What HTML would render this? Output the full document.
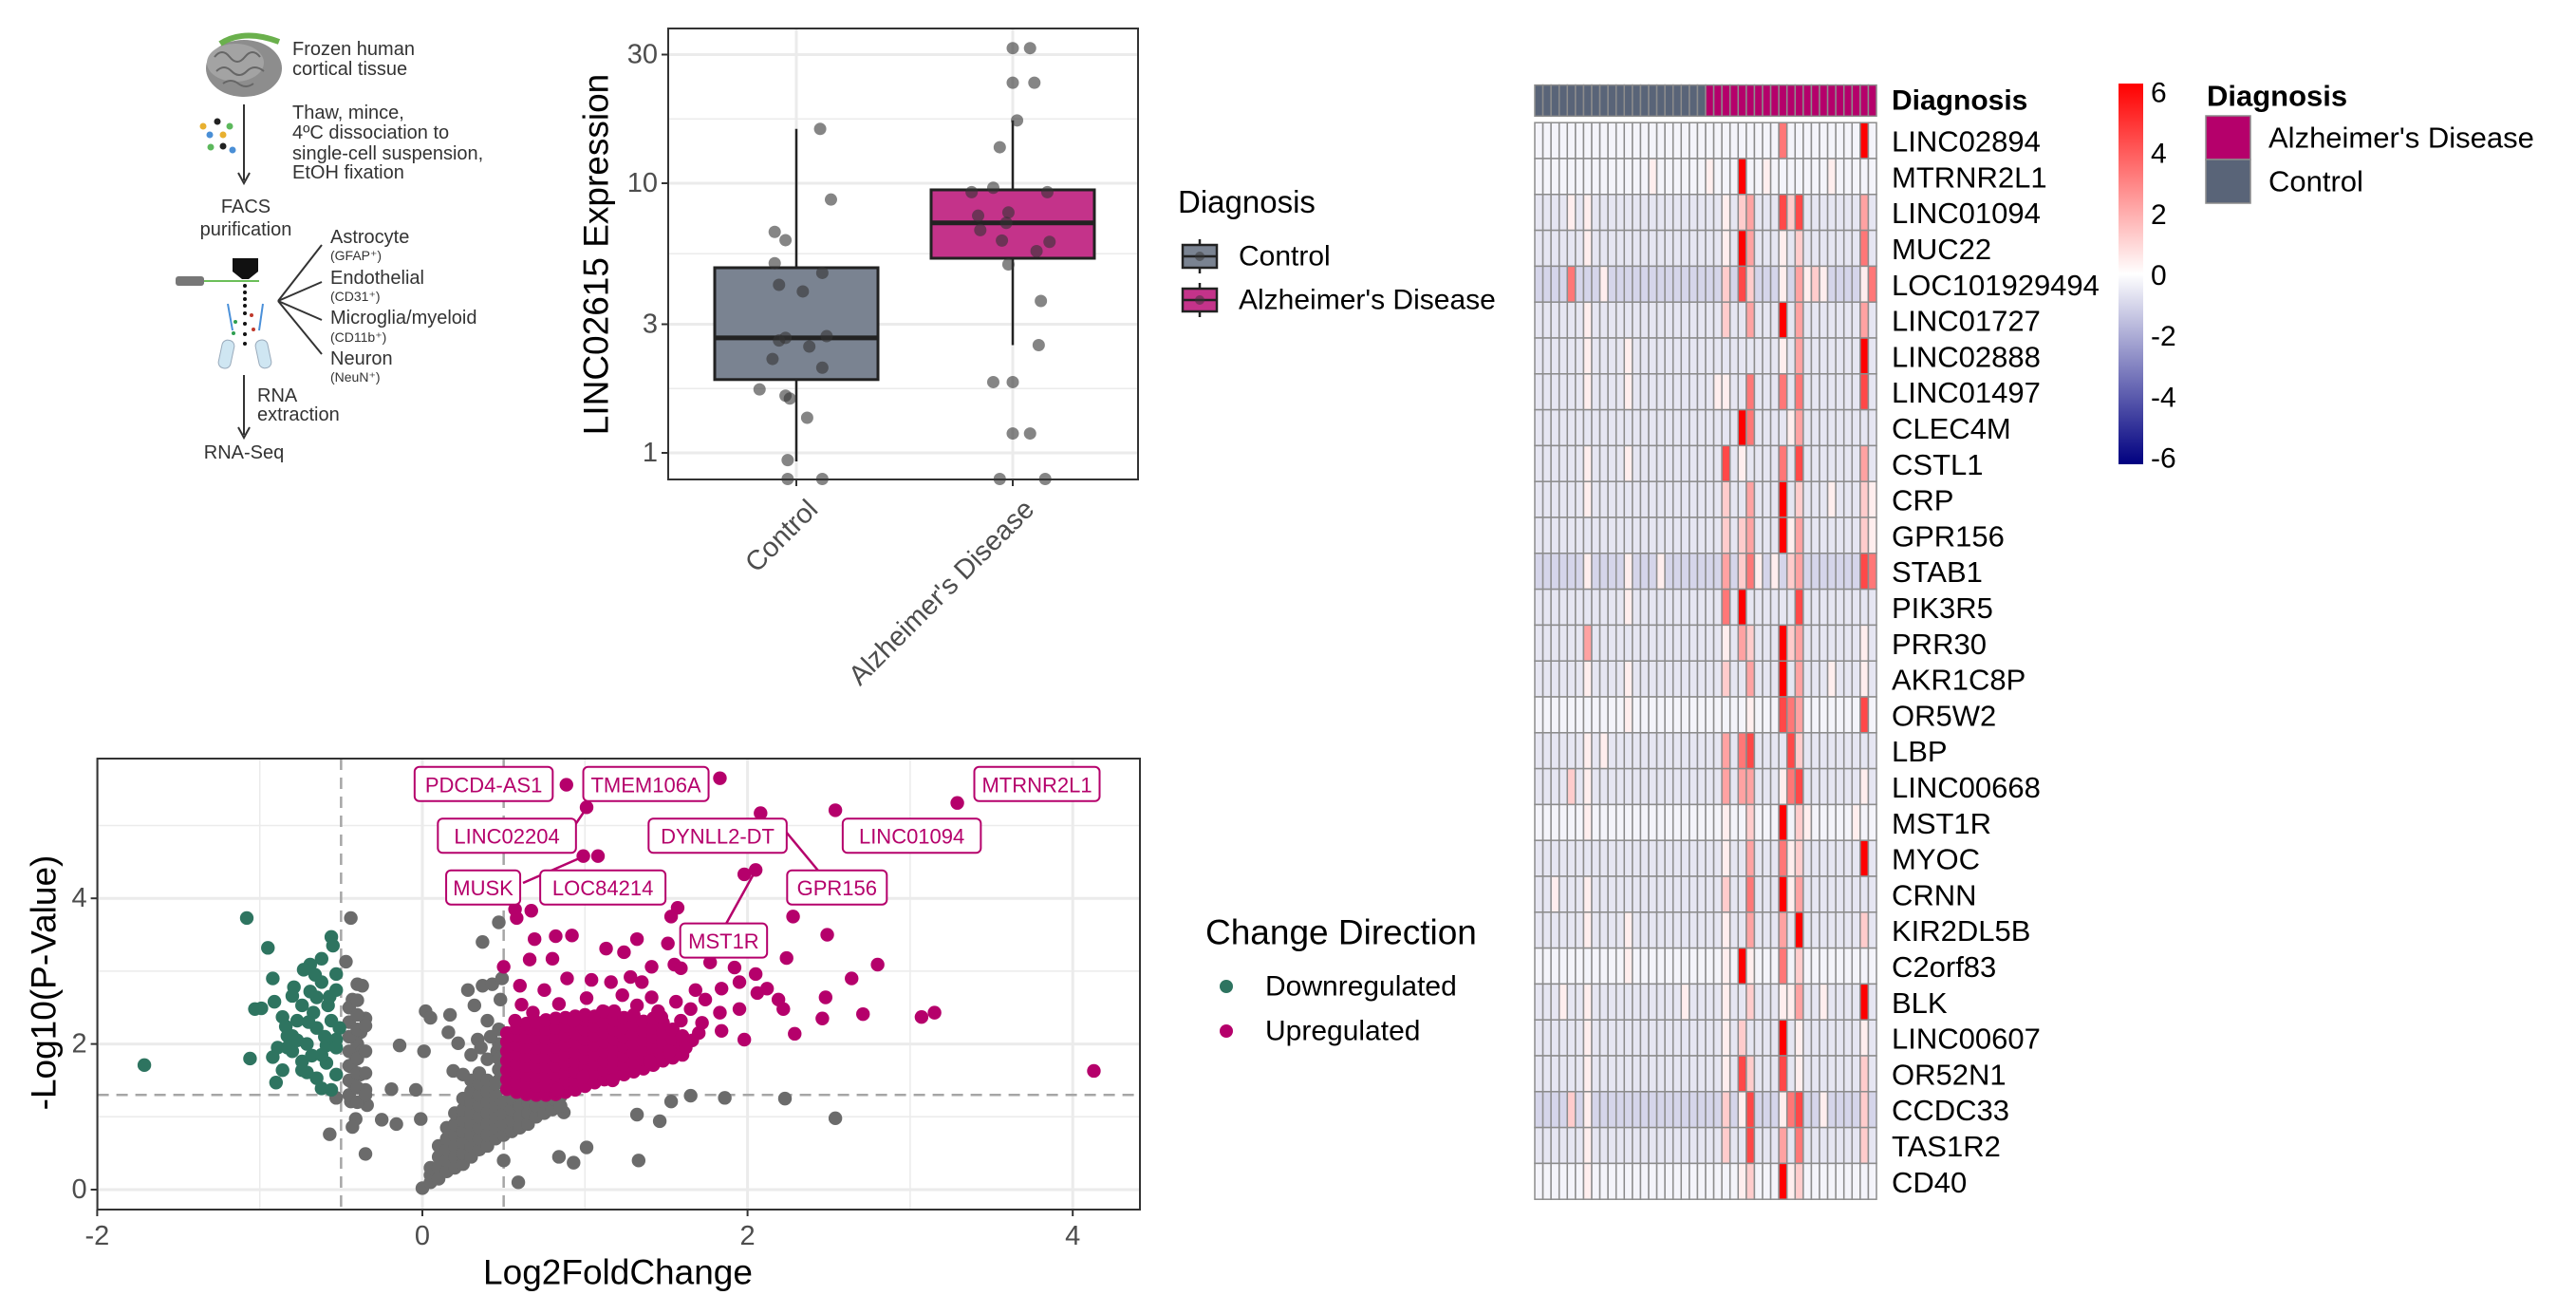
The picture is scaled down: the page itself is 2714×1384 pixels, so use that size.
<!DOCTYPE html>
<html><head><meta charset="utf-8"><style>
html,body{margin:0;padding:0;background:#fff;}
svg{display:block;font-family:"Liberation Sans",Arial,sans-serif;}
</style></head><body>
<svg id="fig" xmlns="http://www.w3.org/2000/svg" width="2714" height="1384" viewBox="0 0 2714 1384">
<rect x="0" y="0" width="2714" height="1384" fill="#fff"/>
<g id="schematic" fill="#333" font-size="20">
  <g>
    <ellipse cx="257" cy="72" rx="40" ry="30" fill="#8d8d8d"/>
    <ellipse cx="248" cy="66" rx="30" ry="20" fill="#a3a3a3"/>
    <path d="M226 60 q8 -10 16 0 q8 10 16 0 q8 -10 16 0 M228 75 q8 -8 16 0 q8 8 16 0 q8 -8 18 0 M235 88 q8 -6 16 0 q8 6 16 0" stroke="#666" stroke-width="2" fill="none"/>
    <path d="M232 46 q25 -16 62 -2" stroke="#6ab04c" stroke-width="6" fill="none"/>
  </g>
  <text x="308" y="52" dominant-baseline="central">Frozen human</text>
  <text x="308" y="73" dominant-baseline="central">cortical tissue</text>
  <line x1="257" y1="110" x2="257" y2="190" stroke="#333" stroke-width="2"/>
  <path d="M251 182 L257 193 L263 182" stroke="#333" stroke-width="2" fill="none"/>
  <g>
    <circle cx="214" cy="133" r="3.5" fill="#e8b030"/><circle cx="229" cy="128" r="3.5" fill="#222"/><circle cx="242" cy="133" r="3.5" fill="#5cb85c"/>
    <circle cx="221" cy="142" r="3.5" fill="#4a8fd6"/><circle cx="235" cy="142" r="3.5" fill="#e8b030"/><circle cx="222" cy="155" r="3.5" fill="#5cb85c"/>
    <circle cx="235" cy="154" r="3.5" fill="#222"/><circle cx="245" cy="158" r="3.5" fill="#4a8fd6"/>
  </g>
  <text x="308" y="119" dominant-baseline="central">Thaw, mince,</text>
  <text x="308" y="140" dominant-baseline="central">4ºC dissociation to</text>
  <text x="308" y="162" dominant-baseline="central">single-cell suspension,</text>
  <text x="308" y="182" dominant-baseline="central">EtOH fixation</text>
  <text x="259" y="218" text-anchor="middle" dominant-baseline="central">FACS</text>
  <text x="259" y="242" text-anchor="middle" dominant-baseline="central">purification</text>
  <g>
    <path d="M245 272 H272 V286 L262 294 H255 L245 286 Z" fill="#111"/>
    <rect x="185" y="291" width="30" height="10" rx="3" fill="#777"/>
    <line x1="215" y1="296" x2="273" y2="296" stroke="#6bbf59" stroke-width="2"/>
    <g fill="#111"><circle cx="258" cy="301" r="2"/><circle cx="258" cy="308" r="2"/><circle cx="258" cy="315" r="2"/><circle cx="258" cy="322" r="2"/><circle cx="258" cy="330" r="2"/><circle cx="258" cy="341" r="2"/><circle cx="258" cy="352" r="2"/><circle cx="258" cy="362" r="2"/></g>
    <circle cx="265" cy="332" r="2" fill="#c0392b"/><circle cx="267" cy="347" r="2" fill="#c0392b"/><circle cx="248" cy="339" r="2" fill="#2e9e4f"/><circle cx="246" cy="351" r="2" fill="#2e9e4f"/>
    <line x1="240" y1="320" x2="245" y2="348" stroke="#4a90d9" stroke-width="2"/>
    <line x1="277" y1="320" x2="273" y2="348" stroke="#4a90d9" stroke-width="2"/>
    <rect x="232" y="358" width="13" height="30" rx="6" fill="#cfe6f2" stroke="#9ab" transform="rotate(12 238 373)"/>
    <rect x="271" y="358" width="13" height="30" rx="6" fill="#cfe6f2" stroke="#9ab" transform="rotate(-12 277 373)"/>
  </g>
  <g stroke="#333" stroke-width="2" fill="none">
    <line x1="293" y1="317" x2="339" y2="258"/><line x1="293" y1="317" x2="339" y2="297"/><line x1="293" y1="317" x2="339" y2="337"/><line x1="293" y1="317" x2="339" y2="373"/>
  </g>
  <text x="348" y="250" dominant-baseline="central">Astrocyte</text>
  <text x="348" y="269" dominant-baseline="central" font-size="14">(GFAP⁺)</text>
  <text x="348" y="293" dominant-baseline="central">Endothelial</text>
  <text x="348" y="312" dominant-baseline="central" font-size="14">(CD31⁺)</text>
  <text x="348" y="335" dominant-baseline="central">Microglia/myeloid</text>
  <text x="348" y="355" dominant-baseline="central" font-size="14">(CD11b⁺)</text>
  <text x="348" y="378" dominant-baseline="central">Neuron</text>
  <text x="348" y="397" dominant-baseline="central" font-size="14">(NeuN⁺)</text>
  <line x1="257" y1="395" x2="257" y2="458" stroke="#333" stroke-width="2"/>
  <path d="M251 450 L257 461 L263 450" stroke="#333" stroke-width="2" fill="none"/>
  <text x="271" y="417" dominant-baseline="central">RNA</text>
  <text x="271" y="437" dominant-baseline="central">extraction</text>
  <text x="257" y="477" text-anchor="middle" dominant-baseline="central">RNA-Seq</text>
</g>
<g id="box"></g>
<g id="volc"></g>
<g id="heat"></g>
<defs>
  <linearGradient id="cbar" x1="0" y1="0" x2="0" y2="1">
    <stop offset="0" stop-color="#ff0000"/><stop offset="0.5" stop-color="#ffffff"/><stop offset="1" stop-color="#000080"/>
  </linearGradient>
</defs>
</svg>
<script>
// ---------- BOXPLOT DATA ----------
const boxCats = ["Control", "Alzheimer's Disease"];
const boxQ1 = [1.87, 5.27];
const boxMed = [2.67, 7.13];
const boxQ3 = [4.86, 9.45];
const boxLo = [0.93, 2.51];
const boxHi = [15.9, 17.1];
const boxTicks = [1, 3, 10, 30];
const ctrlVals = [15.9,8.7,6.6,6.15,5.05,4.65,4.2,3.97,2.67,2.61,2.71,2.48,2.23,2.07,1.72,1.63,1.59,1.35,0.94,0.80,0.80];
const ctrlJit = [0.11,0.16,-0.10,-0.05,-0.10,0.12,-0.08,0.03,-0.05,-0.08,0.14,0.06,-0.11,0.12,-0.17,-0.05,-0.03,0.05,-0.04,-0.04,0.12];
const adVals = [31.7,31.7,23.6,23.6,17.1,13.6,9.27,9.62,9.27,7.79,7.58,7.13,6.7,6.13,6.06,5.6,5.0,3.66,2.51,1.83,1.83,1.18,1.18,0.80,0.80];
const adJit = [0,0.08,0,0.10,0.02,-0.06,-0.19,-0.09,0.16,-0.02,-0.16,-0.03,-0.15,-0.05,0.17,0.11,-0.02,0.13,0.12,-0.09,0,0,0.08,-0.06,0.15];

// ---------- VOLCANO DATA ----------
const volXTicks = [-2, 0, 2, 4];
const volYTicks = [0, 2, 4];
const upPts = [[0.886,5.56],[1.83,5.65],[1.01,5.25],[2.08,5.17],[2.54,5.21],[3.29,5.31],[0.99,4.58],[1.08,4.58],[1.98,4.33],[2.05,4.39],[4.13,1.63],
[0.57,3.85],[0.67,3.83],[0.58,3.73],[1.57,3.87],[1.53,3.75],[2.28,3.75],[2.49,3.50],[0.69,3.44],[0.82,3.48],[0.92,3.49],[1.13,3.31],[1.32,3.44],[1.24,3.26],[1.51,3.38],[0.66,3.16],[0.50,3.06],[0.80,3.17],[2.24,3.18],[2.80,3.09],[2.64,2.90],[2.48,2.64],[2.71,2.41],[3.07,2.37],[3.15,2.43],[2.46,2.35],[2.29,2.14],[1.98,2.06],[1.84,2.18],[2.05,2.96],[1.92,3.05],[1.77,3.12],[1.55,3.09],[1.41,3.06],[1.71,3.33],[1.59,3.04],[2.06,2.70],[2.19,2.61],[2.22,2.48],[2.12,2.76],[1.95,2.85],[1.84,2.76],[1.74,2.61],[1.68,2.74],[1.56,2.58],[1.35,2.85],[1.28,2.92],[1.16,2.85],[1.04,2.88],[0.89,2.90],[0.75,2.74],[0.60,2.80],[0.61,2.54],[0.84,2.55],[1.01,2.63],[1.23,2.67],[1.41,2.64],[1.65,2.48],[1.83,2.43],[1.95,2.48],[1.72,2.29],[1.59,2.32],[1.47,2.37],[0.68,2.43],[0.57,2.32],[1.11,2.45],[0.93,2.32],[1.32,2.53],[1.52,1.90],[1.40,1.76],[1.17,1.50],[0.99,1.55],[0.83,1.37],[1.66,2.05],[1.62,1.95],[1.70,2.15],[1.45,2.45]];
const upCoreFc = [0.52,0.58,0.64,0.70,0.76,0.82,0.88,0.94,1.00,1.06,1.12,1.18,1.24,1.30,1.36,1.42,1.48,1.54,1.60];
const upCoreP = [
[1.38,1.51,1.64,1.77,1.90,2.03,2.15],
[1.34,1.47,1.60,1.73,1.86,1.99,2.12,2.22],
[1.31,1.44,1.57,1.70,1.83,1.96,2.09,2.22,2.28],
[1.30,1.43,1.56,1.69,1.82,1.95,2.08,2.21,2.30],
[1.30,1.43,1.56,1.69,1.82,1.95,2.08,2.21,2.33],
[1.31,1.44,1.57,1.70,1.83,1.96,2.09,2.22,2.35],
[1.34,1.47,1.60,1.73,1.86,1.99,2.12,2.25,2.36],
[1.37,1.50,1.63,1.76,1.89,2.02,2.15,2.28,2.38],
[1.42,1.55,1.68,1.81,1.94,2.07,2.20,2.33,2.40],
[1.47,1.60,1.73,1.86,1.99,2.12,2.25,2.38],
[1.51,1.64,1.77,1.90,2.03,2.16,2.29,2.44],
[1.55,1.68,1.81,1.94,2.07,2.20,2.33,2.45],
[1.58,1.71,1.84,1.97,2.10,2.23,2.36],
[1.62,1.75,1.88,2.01,2.14,2.27,2.40],
[1.66,1.79,1.92,2.05,2.18,2.31],
[1.71,1.84,1.97,2.10,2.23,2.35],
[1.77,1.90,2.03,2.16,2.29],
[1.81,1.94,2.07,2.20],
[1.85,1.98,2.11]];
const downPts = [[-1.08,3.73],[-0.95,3.32],[-1.71,1.71],[-0.56,3.47],[-0.55,3.35],[-0.62,3.17],[-0.69,3.09],[-0.73,3.02],[-0.92,2.90],[-0.79,2.78],[-0.80,2.66],[-0.91,2.58],[-0.99,2.49],[-0.86,2.37],[-0.84,2.24],[-0.80,2.11],[-0.83,1.95],[-0.92,1.82],[-1.06,1.80],[-0.90,1.47],[-0.86,1.64],[-0.74,1.76],[-0.71,1.61],[-0.65,1.53],[-0.62,1.39],[-0.56,1.37],[-0.53,1.58],[-0.68,1.84],[-0.59,1.98],[-0.53,2.06],[-0.65,2.22],[-0.56,2.32],[-0.74,2.53],[-0.65,2.64],[-0.53,2.74],[-0.53,2.96],[-0.62,2.85],[-0.69,2.72],[-0.77,2.32],[-0.83,2.11],[-0.59,1.74],[-0.53,1.95],[-0.80,1.90],[-0.71,2.00],[-0.67,2.43],[-0.58,2.53],[-0.51,2.22],[-1.03,2.48],[-0.89,1.95],[-0.74,1.64],[-0.60,2.10],[-0.70,2.30],[-0.77,2.05],[-0.62,1.85],[-0.57,2.65],[-0.66,2.95]];
const nsPts = [[-0.44,3.73],[-0.47,3.13],[-0.40,2.82],[-0.37,2.80],[-0.43,2.61],[-0.35,2.35],[-0.38,2.16],[-0.40,2.00],[-0.37,1.90],[-0.41,1.79],[-0.44,1.69],[-0.38,1.58],[-0.43,1.47],[-0.35,1.37],[-0.34,1.16],[-0.44,1.21],[-0.53,1.26],[-0.41,0.97],[-0.43,0.86],[-0.57,0.76],[-0.35,0.49],[-0.25,0.96],[-0.16,0.90],[-0.19,1.38],[-0.04,1.37],[-0.01,0.97],[-0.14,1.98],[0.01,1.90],[0.02,2.45],[0.05,2.36],[0.17,2.40],[0.32,2.53],[0.28,2.74],[0.37,2.80],[0.43,2.82],[0.49,2.90],[0.37,3.40],[0.47,3.67],[0.48,2.61],[0.40,2.32],[0.16,2.16],[0.22,2.01],[0.34,2.06],[0.19,1.63],[0.25,1.58],[0.40,1.79],[0.46,1.90],[1.53,1.21],[1.65,1.29],[1.86,1.26],[2.23,1.25],[2.54,0.98],[1.32,1.03],[1.46,0.94],[0.87,1.06],[1.01,0.58],[0.84,0.45],[0.93,0.37],[1.33,0.40],[0.59,0.10],[0.0,0.02],[0.50,0.40],
[-0.45,1.30],[-0.45,1.50],[-0.45,1.70],[-0.45,1.90],[-0.45,2.10],[-0.45,2.30],[-0.45,2.50],[-0.40,1.20],[-0.40,1.40],[-0.40,1.60],[-0.40,1.80],[-0.40,2.20],[-0.40,2.40],[-0.40,2.60],[-0.35,1.30],[-0.35,1.60],[-0.35,1.90],[-0.35,2.25],
[0.47,1.50],[0.47,1.65],[0.47,1.80],[0.47,2.00],[0.47,2.20],[0.42,2.10],[0.30,1.85],[0.36,1.95]];
const nsCoreFc = [0.05,0.10,0.15,0.20,0.25,0.30,0.35,0.40,0.45,0.50,0.55,0.60,0.65,0.70,0.75,0.80,0.85];
const nsCoreP = [
[0.10,0.20,0.30],[0.15,0.30,0.45,0.60],[0.25,0.40,0.55,0.70,0.85],[0.30,0.45,0.60,0.75,0.90,1.05],
[0.35,0.50,0.65,0.80,0.95,1.10,1.25],[0.45,0.60,0.75,0.90,1.05,1.20,1.35,1.50],[0.55,0.70,0.85,1.00,1.15,1.30,1.45,1.60],
[0.60,0.75,0.90,1.05,1.20,1.35,1.50],[0.70,0.85,1.00,1.15,1.30,1.45],[0.75,0.90,1.05,1.20],[0.80,0.95,1.10,1.25],
[0.85,1.00,1.15,1.28],[0.90,1.05,1.20],[1.00,1.15,1.28],[1.05,1.20],[1.10,1.25],[1.15,1.28]];
const volLabels = ["PDCD4-AS1","TMEM106A","MTRNR2L1","LINC02204","DYNLL2-DT","LINC01094","MUSK","LOC84214","GPR156","MST1R"];
const volLabelFc = [0.377,1.375,3.78,0.52,1.816,3.01,0.374,1.11,2.55,1.853];
const volLabelP = [5.57,5.57,5.57,4.86,4.86,4.86,4.15,4.15,4.15,3.42];

// ---------- HEATMAP DATA ----------
const hmGenes = ["LINC02894","MTRNR2L1","LINC01094","MUC22","LOC101929494","LINC01727","LINC02888","LINC01497","CLEC4M","CSTL1","CRP","GPR156","STAB1","PIK3R5","PRR30","AKR1C8P","OR5W2","LBP","LINC00668","MST1R","MYOC","CRNN","KIR2DL5B","C2orf83","BLK","LINC00607","OR52N1","CCDC33","TAS1R2","CD40"];
const hmGroups = Array(21).fill("Control").concat(Array(21).fill("Alzheimer's Disease"));
const hmRowBase = [-0.25,-0.25,-0.6,-0.6,-1.0,-0.6,-0.6,-0.6,-0.6,-0.6,-0.6,-0.6,-1.0,-0.6,-0.6,-0.6,-0.25,-0.6,-0.6,-0.25,-0.6,-0.6,-0.6,-0.25,-0.6,-0.6,-0.6,-1.0,-0.6,-0.25];
const hmHotRow = [0,0, 1,1,1,1,1, 2,2,2,2,2,2,2,2,2, 3,3,3,3,3,3,3, 4,4,4,4,4,4,4,4,4,4,4,4, 5,5,5,5,5,5, 6,6,6,6,6, 7,7,7,7,7,7,7,7, 8,8,8,8, 9,9,9,9,9,9,9, 10,10,10,10,10,10,10,10, 11,11,11,11,11,11,11,11, 12,12,12,12,12,12,12,12,12,12,12,12, 13,13,13,13, 14,14,14,14,14,14,14,14, 15,15,15,15,15,15,15,15, 16,16,16,16,16,16, 17,17,17,17,17,17,17, 18,18,18,18,18,18,18,18,18, 19,19,19,19,19,19,19, 20,20,20,20,20,20, 21,21,21,21,21,21,21, 22,22,22,22,22,22,22, 23,23,23,23,23,23, 24,24,24,24,24,24,24,24,24,24, 25,25,25,25,25,25, 26,26,26,26,26,26,26, 27,27,27,27,27,27,27,27,27,27, 28,28,28,28,28,28, 29,29,29,29,29,29];
const hmHotCol = [30,40, 14,21,25,28,36, 4,6,23,25,26,30,31,32,40, 6,23,25,26,30,32,40, 4,8,23,25,26,30,32,33,34,35,40,41, 6,23,26,30,32,40, 6,11,30,32,40, 6,11,22,23,26,30,32,40, 25,26,31,32, 6,11,23,25,30,32,40, 6,23,26,30,32,36,40,41, 23,25,26,30,31,32,40,41, 6,11,15,23,25,26,27,29,31,32,40,41, 11,23,25,32, 6,23,25,26,30,31,32,40, 6,11,23,26,30,32,36,40, 11,26,30,31,32,40, 6,8,23,25,26,31,32, 4,6,23,25,26,30,31,32,40, 6,23,26,30,32,33,39, 23,26,30,31,32,40, 2,6,23,26,30,31,32, 6,11,23,26,30,32,40, 11,23,25,26,30,32, 3,6,18,23,26,30,31,32,35,40, 6,23,25,30,32,40, 6,23,25,26,30,32,40, 4,6,23,25,26,30,31,32,35,40, 6,23,26,30,32,40, 6,25,26,30,31,32];
const hmHotVal = [3.2,6, 0.4,0.4,6,0.4,0.4, 0.4,0.4,0.4,1.2,2.2,4.3,1.2,4.3,2.2, 0.4,0.4,6,2.2,0.4,1.2,3.2, 3.2,0.4,1.2,4.3,1.2,0.4,2.2,0.4,1.2,0.4,0.4,3.2, 0.4,1.2,2.2,6,2.2,2.2, 0.4,0.4,0.4,2.2,6, 0.4,0.4,0.4,0.4,3.2,3.2,3.2,4.3, 6,3.2,0.4,2.2, 0.4,0.4,4.3,0.4,3.2,4.3,2.2, 0.4,1.2,2.2,6,1.2,0.4,1.2,0.4, 1.2,1.2,2.2,6,0.4,2.2,1.2,0.4, 0.4,0.4,0.4,2.2,1.2,3.2,0.4,0.4,1.2,2.2,4.3,3.2, 0.4,3.2,6,4.3, 2.2,0.4,2.2,1.2,6,1.2,2.2,0.4, 0.4,0.4,1.2,2.2,6,2.2,0.4,0.4, 0.4,0.4,4.3,3.2,2.2,4.3, 0.4,0.4,2.2,3.2,4.3,4.3,1.2, 1.2,0.4,2.2,2.2,2.2,0.4,3.2,4.3,0.4, 0.4,0.4,1.2,6,1.2,0.4,0.4, 0.4,2.2,3.2,0.4,1.2,6, 0.4,0.4,1.2,3.2,6,0.4,2.2, 0.4,0.4,0.4,2.2,2.2,6,1.2, 0.4,0.4,6,0.4,3.2,1.2, 0.4,0.4,0.4,0.4,1.2,0.4,0.4,2.2,0.4,6, 0.4,0.4,1.2,6,0.4,0.4, 0.4,0.4,4.3,1.2,4.3,0.4,1.2, 1.2,0.4,1.2,0.4,4.3,0.4,3.2,4.3,0.4,1.2, 0.4,1.2,4.3,2.2,3.2,1.2, 0.4,0.4,1.2,6,0.4,1.2];
const cbTicks = [6,4,2,0,-2,-4,-6];

const NS = 'http://www.w3.org/2000/svg';
function el(tag, parent, attrs) {
  const e = document.createElementNS(NS, tag);
  for (const k in attrs) e.setAttribute(k, attrs[k]);
  parent.appendChild(e);
  return e;
}
function txt(parent, x, y, s, attrs) {
  const t = el('text', parent, Object.assign({x: x, y: y}, attrs || {}));
  t.textContent = s;
  return t;
}

// ===== BOXPLOT =====
(function(){
  const g = document.getElementById('box');
  const PL = 704, PR = 1199, PT = 30, PB = 505;
  const yS = v => 477 - 284 * Math.log10(v);
  const xS = i => 839 + 228 * i;
  const HW = 86;
  const bg = el('rect', g, {x: PL, y: PT, width: PR-PL, height: PB-PT, fill: '#fff'});
  
  
  for (let i = 0; i < boxTicks.length - 1; i++) {
    const m = Math.sqrt(boxTicks[i] * boxTicks[i+1]);
    const mg = el('line', g, {x1: PL, x2: PR, y1: yS(m), y2: yS(m), stroke: '#ebebeb', 'stroke-width': 1.5});
    
    
  }
  boxTicks.forEach(t => {
    const l = el('line', g, {x1: PL, x2: PR, y1: yS(t), y2: yS(t), stroke: '#ebebeb', 'stroke-width': 3});
    
    
    el('line', g, {x1: PL-7, x2: PL, y1: yS(t), y2: yS(t), stroke: '#333', 'stroke-width': 2});
    const tl = txt(g, PL-11, yS(t), String(t), {'text-anchor': 'end', 'dominant-baseline': 'central', 'font-size': 29, fill: '#4d4d4d'});
    
    
  });
  boxCats.forEach((c, i) => {
    const vl = el('line', g, {x1: xS(i), x2: xS(i), y1: PT, y2: PB, stroke: '#ebebeb', 'stroke-width': 3});
    
    
  });
  const fills = ['#7a8391', '#c4338a'];
  boxCats.forEach((c, i) => {
    const x = xS(i);
    const w = el('line', g, {x1: x, x2: x, y1: yS(boxHi[i]), y2: yS(boxLo[i]), stroke: '#222', 'stroke-width': 2.5});
    
    
    const r = el('rect', g, {x: x-HW, y: yS(boxQ3[i]), width: 2*HW, height: yS(boxQ1[i]) - yS(boxQ3[i]), fill: fills[i], stroke: '#222', 'stroke-width': 3});
    
    
    const m = el('line', g, {x1: x-HW, x2: x+HW, y1: yS(boxMed[i]), y2: yS(boxMed[i]), stroke: '#222', 'stroke-width': 5});
    
    
  });
  const pts = [[ctrlVals, ctrlJit, 0], [adVals, adJit, 1]];
  pts.forEach(([vals, jit, ci]) => {
    vals.forEach((v, k) => {
      const c = el('circle', g, {cx: xS(ci) + jit[k]*228, cy: yS(v), r: 6.5, fill: '#333', 'fill-opacity': 0.6});
      
      
    });
  });
  const bd = el('rect', g, {x: PL, y: PT, width: PR-PL, height: PB-PT, fill: 'none', stroke: '#333', 'stroke-width': 2});
  
  
  boxCats.forEach((c, i) => {
    el('line', g, {x1: xS(i), x2: xS(i), y1: PB, y2: PB+7, stroke: '#333', 'stroke-width': 2});
    const t = txt(g, xS(i)+10, PB+19, c, {'text-anchor': 'end', 'dominant-baseline': 'hanging', 'font-size': 29, fill: '#4d4d4d', transform: 'rotate(-45 ' + (xS(i)+10) + ' ' + (PB+19) + ')'});
    
    
  });
  const yt = txt(g, 628, 268, 'LINC02615 Expression', {'text-anchor': 'middle', 'dominant-baseline': 'central', 'font-size': 37, fill: '#000', transform: 'rotate(-90 628 268)'});
  
  
  const lg = el('g', g, {});
  
  
  const lt = txt(lg, 1241, 224, 'Diagnosis', {'font-size': 33, fill: '#000'});
  
  
  boxCats.forEach((c, i) => {
    const cy = 270 + i * 46;
    el('line', lg, {x1: 1264, x2: 1264, y1: cy-18, y2: cy+18, stroke: '#222', 'stroke-width': 2.5});
    const k = el('rect', lg, {x: 1246, y: cy-12, width: 36, height: 24, fill: fills[i], stroke: '#222', 'stroke-width': 2.5});
    
    
    el('line', lg, {x1: 1246, x2: 1282, y1: cy, y2: cy, stroke: '#222', 'stroke-width': 2.5});
    el('circle', lg, {cx: 1264, cy: cy, r: 5, fill: '#333', 'fill-opacity': 0.5});
    const t = txt(lg, 1305, cy, c, {'dominant-baseline': 'central', 'font-size': 30, fill: '#000'});
    
    
  });
})();

// ===== VOLCANO =====
(function(){
  const g = document.getElementById('volc');
  const PL = 102.6, PR = 1201, PT = 799, PB = 1274;
  const xS = v => 445 + 171.3 * v;
  const yS = v => 1253 - 76.7 * v;
  const bg = el('rect', g, {x: PL, y: PT, width: PR-PL, height: PB-PT, fill: '#fff'});
  
  
  [-1, 1, 3].forEach(v => el('line', g, {x1: xS(v), x2: xS(v), y1: PT, y2: PB, stroke: '#ebebeb', 'stroke-width': 1.5}));
  [1, 3, 5].forEach(v => el('line', g, {x1: PL, x2: PR, y1: yS(v), y2: yS(v), stroke: '#ebebeb', 'stroke-width': 1.5}));
  volXTicks.forEach(v => el('line', g, {x1: xS(v), x2: xS(v), y1: PT, y2: PB, stroke: '#ebebeb', 'stroke-width': 3}));
  volYTicks.forEach(v => el('line', g, {x1: PL, x2: PR, y1: yS(v), y2: yS(v), stroke: '#ebebeb', 'stroke-width': 3}));
  [-0.5, 0.5].forEach(v => {
    const d = el('line', g, {x1: xS(v), x2: xS(v), y1: PT, y2: PB, stroke: '#a6a6a6', 'stroke-width': 2.5, 'stroke-dasharray': '12 8'});
    
    
  });
  const h = el('line', g, {x1: PL, x2: PR, y1: yS(1.3), y2: yS(1.3), stroke: '#a6a6a6', 'stroke-width': 2.5, 'stroke-dasharray': '12 8'});
  
  
  function dot(fc, p, col, name) {
    const c = el('circle', g, {cx: xS(fc), cy: yS(p), r: 7.2, fill: col});
    
    
  }
  const GREY = '#6b6b6b', GREEN = '#2e7460', MAG = '#b5006b';
  nsPts.forEach(d => dot(d[0], d[1], GREY, 'ns-point'));
  nsCoreFc.forEach((fc, i) => nsCoreP[i].forEach(p => dot(fc, p, GREY, 'ns-point')));
  downPts.forEach(d => dot(d[0], d[1], GREEN, 'down-point'));
  upCoreFc.forEach((fc, i) => upCoreP[i].forEach(p => dot(fc, p, MAG, 'up-point')));
  upPts.forEach(d => dot(d[0], d[1], MAG, 'up-point'));
  const conn = [[601,876,618,851],[551,930,615,902],[828,876,862,917],[765,973,796,917]];
  conn.forEach(c => el('line', g, {x1: c[0], y1: c[1], x2: c[2], y2: c[3], stroke: MAG, 'stroke-width': 2.5}));
  volLabels.forEach((s, i) => {
    const cx = xS(volLabelFc[i]), cy = yS(volLabelP[i]);
    const w = s.length * 13.5 + 24;
    const r = el('rect', g, {x: cx - w/2, y: cy - 18, width: w, height: 36, rx: 5, fill: '#fff', stroke: MAG, 'stroke-width': 2});
    
    
    const t = txt(g, cx, cy + 1, s, {'text-anchor': 'middle', 'dominant-baseline': 'central', 'font-size': 22, fill: MAG});
    
    
  });
  const bd = el('rect', g, {x: PL, y: PT, width: PR-PL, height: PB-PT, fill: 'none', stroke: '#333', 'stroke-width': 2});
  
  
  volXTicks.forEach(v => {
    el('line', g, {x1: xS(v), x2: xS(v), y1: PB, y2: PB+7, stroke: '#333', 'stroke-width': 2});
    const t = txt(g, xS(v), PB+28, String(v), {'text-anchor': 'middle', 'dominant-baseline': 'central', 'font-size': 29, fill: '#4d4d4d'});
    
    
  });
  volYTicks.forEach(v => {
    el('line', g, {x1: PL-7, x2: PL, y1: yS(v), y2: yS(v), stroke: '#333', 'stroke-width': 2});
    const t = txt(g, PL-11, yS(v), String(v), {'text-anchor': 'end', 'dominant-baseline': 'central', 'font-size': 29, fill: '#4d4d4d'});
    
    
  });
  const xt = txt(g, 651, 1340, 'Log2FoldChange', {'text-anchor': 'middle', 'dominant-baseline': 'central', 'font-size': 37, fill: '#000'});
  
  
  const yt = txt(g, 46, 1035, '-Log10(P-Value)', {'text-anchor': 'middle', 'dominant-baseline': 'central', 'font-size': 37, fill: '#000', transform: 'rotate(-90 46 1035)'});
  
  
  const lt = txt(g, 1270, 982, 'Change Direction', {'dominant-baseline': 'central', 'font-size': 37, fill: '#000'});
  
  
  [['Downregulated', GREEN, 1039], ['Upregulated', MAG, 1086]].forEach(e => {
    el('circle', g, {cx: 1292, cy: e[2], r: 7, fill: e[1]});
    const t = txt(g, 1333, e[2], e[0], {'dominant-baseline': 'central', 'font-size': 30, fill: '#000'});
    
    
  });
})();

// ===== HEATMAP =====
(function(){
  const g = document.getElementById('heat');
  const X0 = 1617, CW = 360 / 42, Y0 = 129.2, RH = 37.8;
  const colX = j => X0 + j * CW;
  const rowY = i => Y0 + i * RH;
  function color(v) {
    let r, gg, b;
    if (v >= 0) { const t = Math.min(v / 6, 1); r = 255; gg = Math.round(255 * (1 - t)); b = gg; }
    else { const t = Math.min(-v / 6, 1); r = Math.round(255 - 255 * t); gg = r; b = Math.round(255 - 127 * t); }
    return 'rgb(' + r + ',' + gg + ',' + b + ')';
  }
  const M = hmGenes.map((_, i) => hmGroups.map(() => hmRowBase[i]));
  hmHotRow.forEach((r, k) => { M[r][hmHotCol[k]] = hmHotVal[k]; });
  hmGroups.forEach((grp, j) => {
    const a = el('rect', g, {x: colX(j), y: 89.6, width: CW, height: 32.7, fill: grp === 'Control' ? '#596478' : '#b5006b', stroke: '#8c8c8c', 'stroke-width': 1.5});
    
    
  });
  const at = txt(g, 1993, 106, 'Diagnosis', {'dominant-baseline': 'central', 'font-size': 30, 'font-weight': 'bold', fill: '#000'});
  
  
  M.forEach((row, i) => {
    row.forEach((v, j) => {
      const c = el('rect', g, {x: colX(j), y: rowY(i), width: CW, height: RH, fill: color(v), stroke: '#8c8c8c', 'stroke-width': 1.5});
      
      
    });
    const t = txt(g, 1993, rowY(i) + RH/2 + 1, hmGenes[i], {'dominant-baseline': 'central', 'font-size': 31, fill: '#000'});
    
    
  });
  const cb = el('rect', g, {x: 2232, y: 88, width: 26, height: 401, fill: 'url(#cbar)'});
  
  
  cbTicks.forEach(v => {
    const y = 290.5 - v * 32.1;
    const t = txt(g, 2266, y, String(v), {'dominant-baseline': 'central', 'font-size': 30, fill: '#000'});
    
    
  });
  const lt = txt(g, 2325, 101, 'Diagnosis', {'dominant-baseline': 'central', 'font-size': 31, 'font-weight': 'bold', fill: '#000'});
  
  
  [["Alzheimer's Disease", '#b5006b', 122], ['Control', '#596478', 168]].forEach(e => {
    const k = el('rect', g, {x: 2324, y: e[2], width: 47, height: 46, fill: e[1], stroke: '#8c8c8c', 'stroke-width': 1.5});
    
    
    const t = txt(g, 2390, e[2] + 23, e[0], {'dominant-baseline': 'central', 'font-size': 31, fill: '#000'});
    
    
  });
})();
</script>
</body></html>
